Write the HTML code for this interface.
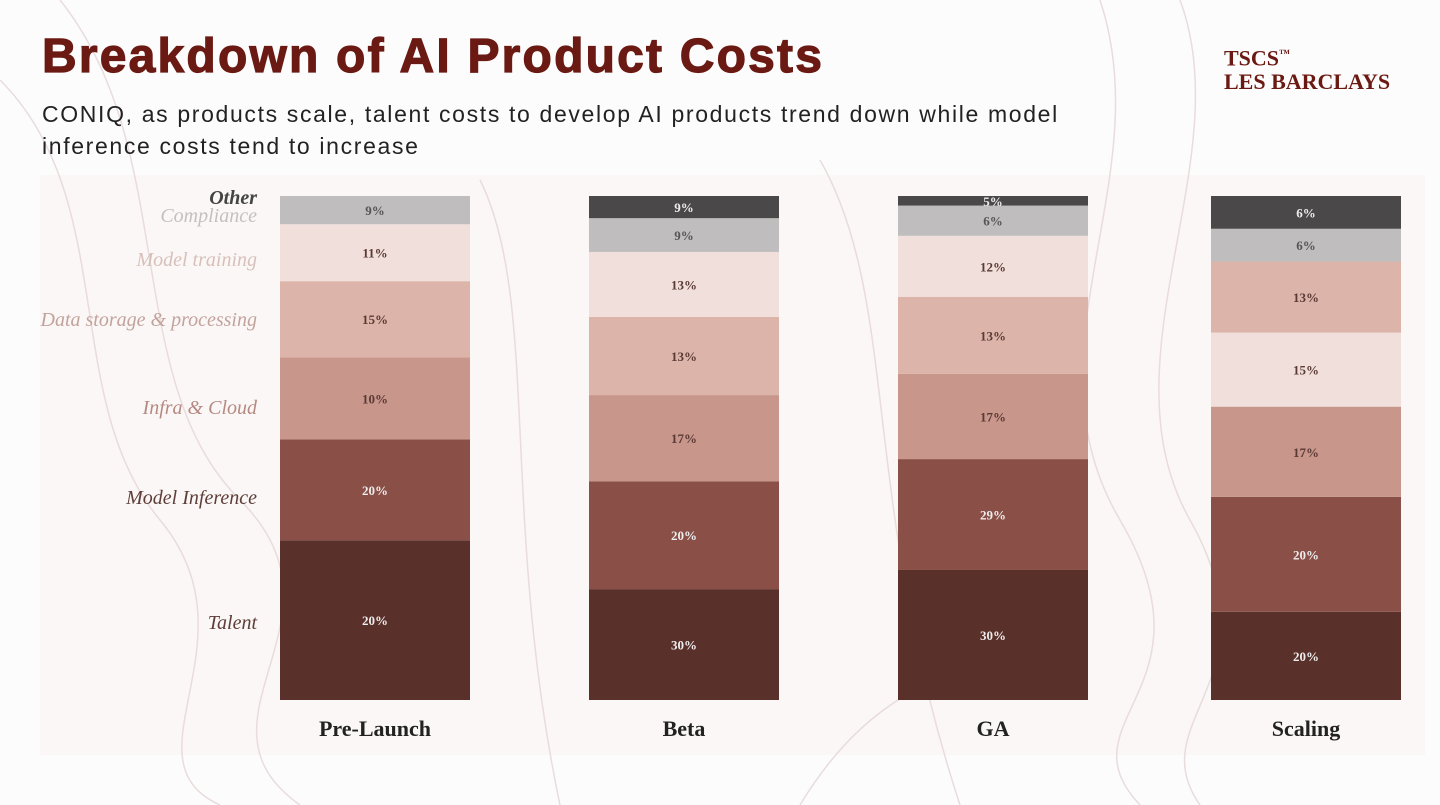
<!DOCTYPE html>
<html><head><meta charset="utf-8"><style>
body{margin:0;width:1440px;height:805px;background:#fdfcfc;overflow:hidden;font-family:"Liberation Sans",sans-serif;position:relative}
h1{position:absolute;left:42px;top:29px;margin:0;font-size:48px;font-weight:900;color:#6a1a12;letter-spacing:2.2px;-webkit-text-stroke:1.2px #6a1a12}
.sub{position:absolute;left:42px;top:98px;font-size:23px;line-height:32px;color:#222;width:1060px;letter-spacing:1.65px}
.logo{position:absolute;left:1224px;top:42px;font-family:"Liberation Serif",serif;color:#6a1a12;font-size:22px;line-height:24px;font-weight:bold}
</style></head><body>
<svg width="1440" height="805" style="position:absolute;left:0;top:0">
<rect x="40" y="175" width="1385" height="580" fill="#fbf7f6"/>
<g fill="none" stroke="#e8dcdc" stroke-width="1.5">
<path d="M0 80 C120 200 60 400 160 520 S120 760 220 805"/>
<path d="M60 0 C180 150 120 380 240 500 S180 720 300 805"/>
<path d="M1100 0 C1160 180 1020 350 1120 520 S1060 720 1140 805"/>
<path d="M1180 0 C1240 160 1100 360 1190 520 S1140 720 1200 805"/>
<path d="M800 805 C900 640 1000 700 1080 560"/>
<path d="M820 160 C900 300 860 500 960 805"/>
<path d="M480 180 C540 300 500 520 560 805"/>
</g></svg>
<h1>Breakdown of AI Product Costs</h1>
<div class="sub">CONIQ, as products scale, talent costs to develop AI products trend down while model inference costs tend to increase</div>
<div class="logo">TSCS<sup style="font-size:11px">™</sup><br>LES BARCLAYS</div>
<svg id="chart" width="1440" height="805" style="position:absolute;left:0;top:0"></svg>
<script>
const categories=["Pre-Launch","Beta","GA","Scaling"];
// segments bottom->top; shares are visual bar share (%)
const segNames=[["Talent","Model Inference","Infra & Cloud","Data storage & processing","Model training","Compliance","Other"],
["Talent","Model Inference","Infra & Cloud","Data storage & processing","Model training","Compliance","Other"],
["Talent","Model Inference","Infra & Cloud","Data storage & processing","Model training","Compliance","Other"],
["Talent","Model Inference","Infra & Cloud","Model training","Data storage & processing","Compliance","Other"]];
const shares=[[31.7,20.0,16.3,15.1,11.3,5.6,0],[22.0,21.4,17.1,15.5,12.9,6.7,4.4],[25.8,22.0,16.9,15.3,12.1,6.0,1.9],[17.5,22.8,17.9,14.7,14.1,6.5,6.5]];
const labels=[["20%","20%","10%","15%","11%","9%",""],["30%","20%","17%","13%","13%","9%","9%"],["30%","29%","17%","13%","12%","6%","5%"],["20%","20%","17%","15%","13%","6%","6%"]];
const legendNames=["Talent","Model Inference","Infra & Cloud","Data storage & processing","Model training","Compliance","Other"];
const legendY=[629,504,414,326,266,222,204];
const colors={"Talent":"#5a302a","Model Inference":"#8a4f47","Infra & Cloud":"#c8968b","Data storage & processing":"#ddb4a9","Model training":"#f1dfdb","Compliance":"#bfbdbd","Other":"#4a4848"};
const textCol={"Talent":"#eee","Model Inference":"#eee","Infra & Cloud":"#5a3a35","Data storage & processing":"#5a3a35","Model training":"#5a3a35","Compliance":"#555","Other":"#eee"};
const legCol={"Talent":"#5e3e39","Model Inference":"#5e3e39","Infra & Cloud":"#b58a82","Data storage & processing":"#c2a39c","Model training":"#d7c0ba","Compliance":"#c4c0c0","Other":"#444"};
const svg=document.getElementById('chart');const NS="http://www.w3.org/2000/svg";
const barX=[280,589,898,1211],barW=190,top0=196,bot=700;
const y=v=>bot-(v/100)*(bot-top0);
function el(t,a){const e=document.createElementNS(NS,t);for(const k in a)e.setAttribute(k,a[k]);svg.appendChild(e);return e;}
categories.forEach((c,i)=>{
 const tot=shares[i].reduce((a,b)=>a+b,0);let acc=0;
 shares[i].forEach((s,j)=>{
  const v=s/tot*100;const y1=y(acc),y2=y(acc+v);acc+=v;if(v<=0)return;
  const n=segNames[i][j];
  const r=el('rect',{x:barX[i],y:y2,width:barW,height:y1-y2,fill:colors[n]});
  
  
  if(labels[i][j]){const t=el('text',{x:barX[i]+barW/2,y:(y1+y2)/2+5,'text-anchor':'middle','font-family':'Liberation Serif,serif','font-size':13,'font-weight':'bold',fill:textCol[n]});t.textContent=labels[i][j];
  
  }
 });
 const t=el('text',{x:barX[i]+barW/2,y:736,'text-anchor':'middle','font-family':'Liberation Serif,serif','font-size':22,'font-weight':'bold',fill:'#222'});t.textContent=c;
 
 
});
legendNames.forEach((n,k)=>{
 const t=el('text',{x:257,y:legendY[k],'text-anchor':'end','font-family':'Liberation Serif,serif','font-size':20,'font-style':'italic','font-weight':n==='Other'?'bold':'normal',fill:legCol[n]});t.textContent=n;
 
 
});
</script>
</body></html>
